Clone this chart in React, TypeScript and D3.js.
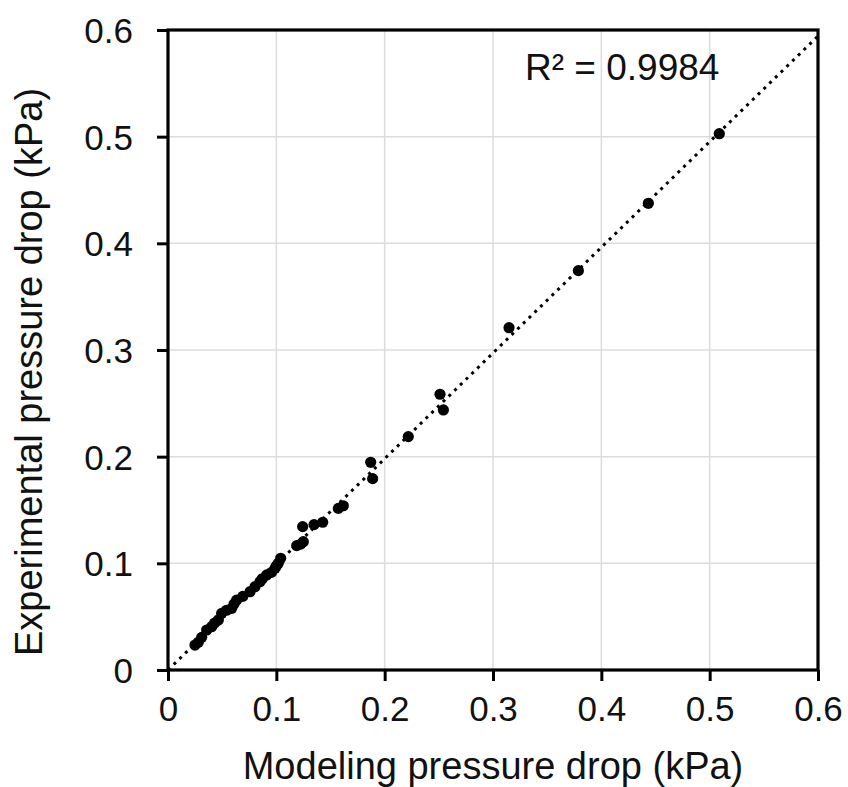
import * as d3 from "d3";
import { useEffect, useRef } from "react";

// modelled vs measured pressure drop, kPa
const modeled = [
  0.5089, 0.4434, 0.3788, 0.3148, 0.2511, 0.2542, 0.2218, 0.1871, 0.1889,
  0.1618, 0.1572, 0.1428, 0.1348, 0.1243, 0.1249, 0.1225, 0.1188, 0.104,
  0.1018, 0.1, 0.0988, 0.0955, 0.0911, 0.087, 0.0849, 0.0803, 0.0757, 0.069,
  0.0634, 0.061, 0.0588, 0.054, 0.0495, 0.0465, 0.043, 0.0403, 0.0357, 0.0311,
  0.028, 0.0249,
];
const experimental = [
  0.5028, 0.4375, 0.3744, 0.3209, 0.2585, 0.2438, 0.2188, 0.1947, 0.1794,
  0.154, 0.1515, 0.1385, 0.1363, 0.1344, 0.1203, 0.118, 0.1166, 0.1047, 0.1,
  0.0975, 0.0953, 0.0915, 0.0891, 0.0855, 0.0828, 0.0781, 0.0734, 0.069,
  0.0656, 0.062, 0.0578, 0.056, 0.0531, 0.0469, 0.044, 0.0406, 0.0375, 0.0306,
  0.026, 0.0234,
];
const xTicks = [0, 0.1, 0.2, 0.3, 0.4, 0.5, 0.6];
const yTicks = [0, 0.1, 0.2, 0.3, 0.4, 0.5, 0.6];
const rSquaredLabel = "R² = 0.9984";
const xTitle = "Modeling pressure drop (kPa)";
const yTitle = "Experimental pressure drop (kPa)";

const width = 848;
const height = 787;
const marginLeft = 168;
const marginTop = 30;
const plotW = 650;
const plotH = 640;
const font = "'Liberation Sans', Arial, sans-serif";

const App = () => {
  const ref = useRef<SVGSVGElement>(null);

  const xScale = d3.scaleLinear().domain([0, 0.6]).range([0, plotW]);
  const yScale = d3.scaleLinear().domain([0, 0.6]).range([plotH, 0]);

  const points = modeled.map((x, i) => ({ x, y: experimental[i] }));

  // linear trendline forced through the origin
  const slope =
    d3.sum(points, (d) => d.x * d.y) / d3.sum(points, (d) => d.x * d.x);
  const trend = [
    { x: 0, y: 0 },
    { x: 0.6, y: 0.6 * slope },
  ];
  const lineFunc = d3
    .line<{ x: number; y: number }>()
    .x((d) => xScale(d.x))
    .y((d) => yScale(d.y));

  useEffect(() => {
    const svg = d3.select(ref.current);
    const fmt = d3.format("~g");

    const xAxis = d3
      .axisBottom(xScale)
      .tickValues(xTicks)
      .tickSize(11)
      .tickPadding(8)
      .tickFormat((d) => fmt(d as number));
    const yAxis = d3
      .axisLeft(yScale)
      .tickValues(yTicks)
      .tickSize(11)
      .tickPadding(24)
      .tickFormat((d) => fmt(d as number));

    const gx = svg.select<SVGGElement>(".x-axis").call(xAxis);
    const gy = svg.select<SVGGElement>(".y-axis").call(yAxis);
    [gx, gy].forEach((g) => {
      g.select(".domain").remove();
      g.selectAll("line").attr("stroke", "#000").attr("stroke-width", 3);
      g.selectAll("text")
        .attr("fill", "#111")
        .style("font-family", font)
        .style("font-size", "35px");
    });
    gx.selectAll("text").attr("dy", "0.9em");
    gy.selectAll("text").attr("dy", "0.36em");
  }, []);

  return (
    <svg
      ref={ref}
      width={width}
      height={height}
      style={{ position: "absolute", left: 0, top: 0, background: "#fff" }}
    >
      <defs>
        <clipPath id="plot-clip">
          <rect x={0} y={0} width={plotW} height={plotH} />
        </clipPath>
      </defs>
      <g transform={`translate(${marginLeft}, ${marginTop})`}>
        {xTicks.slice(1, -1).map((t) => (
          <line
            key={"gx" + t}
            x1={xScale(t)}
            x2={xScale(t)}
            y1={0}
            y2={plotH}
            stroke="#dcdcdc"
            strokeWidth={1.5}
          />
        ))}
        {yTicks.slice(1, -1).map((t) => (
          <line
            key={"gy" + t}
            x1={0}
            x2={plotW}
            y1={yScale(t)}
            y2={yScale(t)}
            stroke="#dcdcdc"
            strokeWidth={1.5}
          />
        ))}
        <g clipPath="url(#plot-clip)">
          <path
            d={lineFunc(trend) ?? ""}
            fill="none"
            stroke="#000"
            strokeWidth={3}
            strokeDasharray="3 5"
          />
        </g>
        {points.map((d, i) => (
          <circle
            key={i}
            cx={xScale(d.x)}
            cy={yScale(d.y)}
            r={5.6}
            fill="#000"
          />
        ))}
        <rect
          x={0}
          y={0}
          width={plotW}
          height={plotH}
          fill="none"
          stroke="#000"
          strokeWidth={3.2}
        />
        <text
          x={357}
          y={50}
          textAnchor="start"
          fontFamily={font}
          fontSize={37}
          fill="#111"
        >
          {rSquaredLabel}
        </text>
      </g>
      <g
        className="x-axis"
        transform={`translate(${marginLeft}, ${marginTop + plotH})`}
      />
      <g className="y-axis" transform={`translate(${marginLeft}, ${marginTop})`} />
      <text
        x={marginLeft + plotW / 2}
        y={779}
        textAnchor="middle"
        fontFamily={font}
        fontSize={38}
        fill="#111"
      >
        {xTitle}
      </text>
      <text
        transform={`translate(42, 372) rotate(-90)`}
        textAnchor="middle"
        fontFamily={font}
        fontSize={38}
        fill="#111"
      >
        {yTitle}
      </text>
    </svg>
  );
};

export default App;
